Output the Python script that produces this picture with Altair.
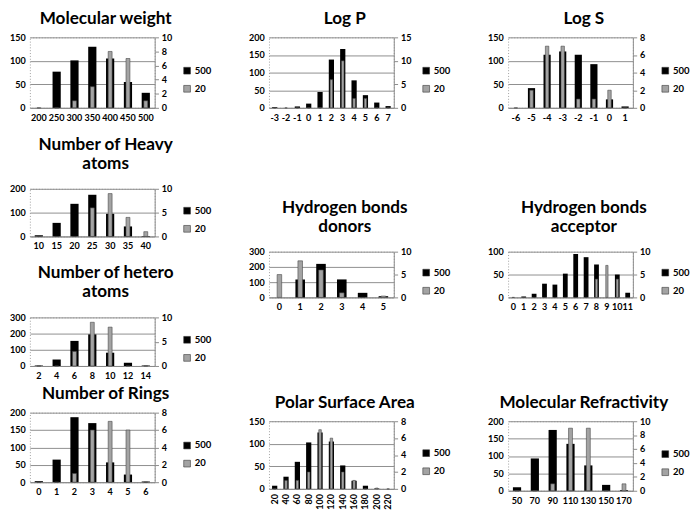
import altair as alt
import pandas as pd

# ---- data ----
mw_cats = ["200", "250", "300", "350", "400", "450", "500"]
mw_500 = [0, 77, 101, 130, 105, 55, 32]
mw_20 = [0, 0, 1, 3, 8, 7, 1]

logp_cats = ["-3", "-2", "-1", "0", "1", "2", "3", "4", "5", "6", "7"]
logp_500 = [2, 0, 4, 12, 45, 137, 167, 78, 36, 15, 5]
logp_20 = [0, 0, 0, 0, 0, 6, 10, 2, 2, 0, 0]

logs_cats = ["-6", "-5", "-4", "-3", "-2", "-1", "0", "1"]
logs_500 = [0, 42, 113, 120, 113, 93, 18, 3]
logs_20 = [0, 2, 7, 7, 1, 1, 2, 0]

heavy_cats = ["10", "15", "20", "25", "30", "35", "40"]
heavy_500 = [5, 57, 137, 175, 95, 42, 2]
heavy_20 = [0, 0, 0, 6, 9, 4, 1]

hetero_cats = ["2", "4", "6", "8", "10", "12", "14"]
hetero_500 = [3, 40, 155, 195, 82, 20, 3]
hetero_20 = [0, 0, 3, 9, 8, 0, 0]

don_cats = ["0", "1", "2", "3", "4", "5"]
don_500 = [0, 118, 220, 118, 30, 8]
don_20 = [5, 8, 6, 1, 0, 0.3]

acc_cats = ["0", "1", "2", "3", "4", "5", "6", "7", "8", "9", "10", "11"]
acc_500 = [0, 2, 8, 30, 28, 52, 95, 88, 72, 0, 50, 10]
acc_20 = [0, 0, 0, 0, 0, 0, 0, 0, 4, 7, 4, 0]

rings_cats = ["0", "1", "2", "3", "4", "5", "6"]
rings_500 = [3, 65, 187, 170, 57, 22, 2]
rings_20 = [0, 0, 1, 6, 7, 6, 0]

psa_cats = ["20", "40", "60", "80", "100", "120", "140", "160", "180", "200", "220"]
psa_500 = [7, 27, 60, 103, 125, 105, 52, 18, 7, 1, 0]
psa_20 = [0, 1, 1, 2, 7, 6, 2, 1, 0, 0.1, 0]

mr_cats = ["50", "70", "90", "110", "130", "150", "170"]
mr_500 = [10, 93, 175, 135, 73, 17, 2]
mr_20 = [0, 0, 1, 9, 9, 0, 1]

FONT = "Lato"
W = 131


def panel(title, cats, v500, v20, lticks, rticks, h, rot=False):
    df = pd.DataFrame({"cat": cats, "v500": v500, "v20": v20})
    base = alt.Chart(df)
    xenc = alt.X(
        "cat:N",
        sort=cats,
        scale=alt.Scale(paddingInner=0, paddingOuter=0),
        axis=alt.Axis(
            title=None,
            labelAngle=270 if rot else 0,
            ticks=False,
            domainColor="#888888",
            labelPadding=5,
        ),
    )
    cscale = alt.Scale(domain=["500", "20"], range=["#000000", "#a3a3a3"])
    legend = alt.Legend(
        title=None,
        orient="none",
        legendX=W + 29,
        legendY=h / 2 - 7,
        symbolType="square",
        symbolSize=50,
        labelFont=FONT,
        labelFontWeight="bold",
        labelFontSize=10,
        labelColor="#000000",
        symbolStrokeColor="#333333",
        symbolStrokeWidth=0.6,
        rowPadding=9,
        labelOffset=3,
    )
    black = (
        base.transform_calculate(series="'500'")
        .mark_bar(width=alt.RelativeBandSize(0.46))
        .encode(
            x=xenc,
            y=alt.Y(
                "v500:Q",
                scale=alt.Scale(domain=[0, lticks[-1]], nice=False),
                axis=alt.Axis(
                    title=None,
                    values=lticks,
                    orient="left",
                    ticks=False,
                    domain=False,
                    grid=True,
                    gridColor="#8a8a8a",
                    labelPadding=5,
                ),
            ),
            color=alt.Color("series:N", scale=cscale, legend=legend),
        )
    )
    gray = (
        base.transform_calculate(series="'20'")
        .mark_bar(width=alt.RelativeBandSize(0.22), stroke="#444444", strokeWidth=0.6)
        .encode(
            x=xenc,
            y=alt.Y(
                "v20:Q",
                scale=alt.Scale(domain=[0, rticks[-1]], nice=False),
                axis=alt.Axis(
                    title=None,
                    values=rticks,
                    orient="right",
                    ticks=True,
                    tickSize=4,
                    tickColor="#888888",
                    domain=True,
                    domainColor="#888888",
                    grid=False,
                    labelPadding=3,
                ),
            ),
            color=alt.Color("series:N", scale=cscale, legend=legend),
        )
    )
    tparams = dict(
        font=FONT,
        fontSize=18,
        fontWeight="bold",
        color="#000000",
        offset=5,
        anchor="middle",
        frame="group",
        dx=14,
    )
    if isinstance(title, list):
        tparams["lineHeight"] = 20
        tparams["offset"] = 12
    return (
        alt.layer(black, gray)
        .resolve_scale(y="independent")
        .properties(width=W, height=h, title=alt.Title(title, **tparams))
    )


mw = panel("Molecular weight", mw_cats, mw_500, mw_20, [0, 50, 100, 150], [0, 2, 4, 6, 8, 10], 74)
heavy = panel(["Number of Heavy", "atoms"], heavy_cats, heavy_500, heavy_20, [0, 100, 200], [0, 5, 10], 50)
hetero = panel(["Number of hetero", "atoms"], hetero_cats, hetero_500, hetero_20, [0, 100, 200, 300], [0, 5, 10], 51)
rings = panel("Number of Rings", rings_cats, rings_500, rings_20, [0, 50, 100, 150, 200], [0, 2, 4, 6, 8], 73)

logp = panel("Log P", logp_cats, logp_500, logp_20, [0, 50, 100, 150, 200], [0, 5, 10, 15], 74)
don = panel(["Hydrogen bonds", "donors"], don_cats, don_500, don_20, [0, 100, 200, 300], [0, 5, 10], 48)
psa = panel("Polar Surface Area", psa_cats, psa_500, psa_20, [0, 50, 100, 150], [0, 2, 4, 6, 8], 71, rot=True)

logs = panel("Log S", logs_cats, logs_500, logs_20, [0, 50, 100, 150], [0, 2, 4, 6, 8], 74)
acc = panel(["Hydrogen bonds", "acceptor"], acc_cats, acc_500, acc_20, [0, 50, 100], [0, 5, 10], 48)
mr = panel("Molecular Refractivity", mr_cats, mr_500, mr_20, [0, 50, 100, 150, 200], [0, 2, 4, 6, 8, 10], 73)

res = dict(x="independent", y="independent", color="independent")
left = alt.vconcat(
    alt.vconcat(mw, heavy, hetero, spacing=14).resolve_scale(**res), rings, spacing=5
).resolve_scale(**res)
mid = alt.vconcat(
    alt.vconcat(logp, don, spacing=80).resolve_scale(**res), psa, spacing=86
).resolve_scale(**res)
right = alt.vconcat(
    alt.vconcat(logs, acc, spacing=80).resolve_scale(**res), mr, spacing=86
).resolve_scale(**res)

chart = (
    alt.hconcat(left, mid, right, spacing=36)
    .resolve_scale(**res)
    .properties(padding={"left": 0, "top": -11, "right": 0, "bottom": 0}, background="white")
    .configure_view(stroke="#9a9a9a", strokeDash=[1, 2])
    .configure_axis(
        labelFont=FONT,
        labelFontWeight="bold",
        labelFontSize=9.5,
        labelColor="#000000",
    )
)

chart.save("out.html", embed_options={"renderer": "svg", "actions": False})
